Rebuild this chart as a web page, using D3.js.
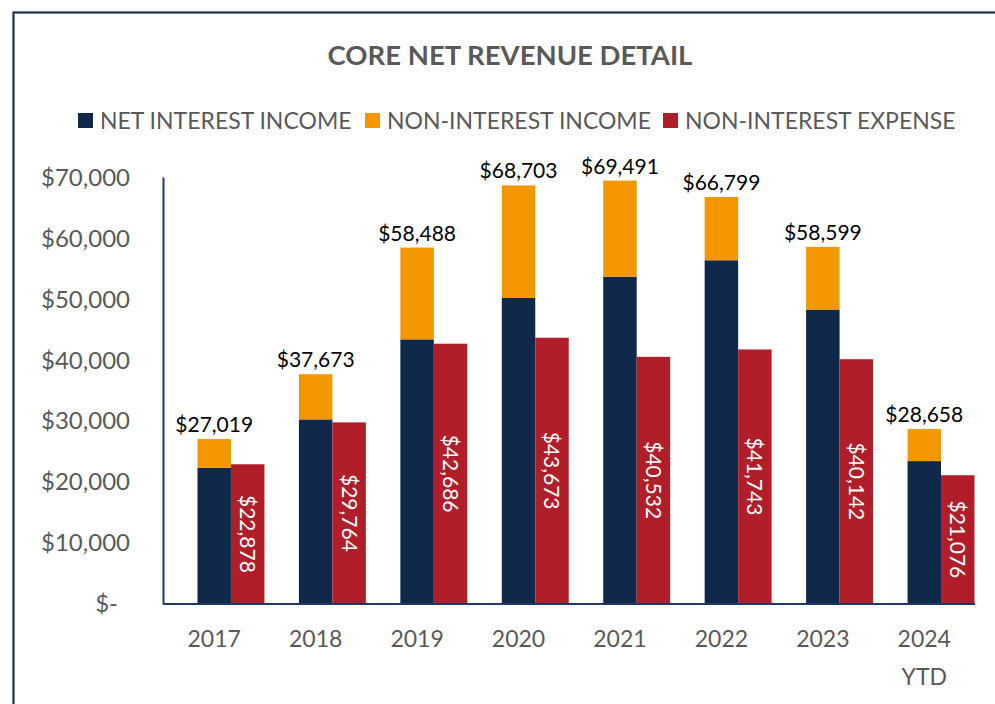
<!DOCTYPE html>
<html><head><meta charset="utf-8">
<script src="https://cdn.jsdelivr.net/npm/d3@7"></script>
<style>body{margin:0;background:#fff;} svg{display:block;}</style>
</head><body>
<svg id="c" width="995" height="704"></svg>
<script>
const categories = ["2017","2018","2019","2020","2021","2022","2023","2024"];
const categorySub = ["","","","","","","","YTD"];
const netInterestIncome = [22300, 30250, 43400, 50200, 53700, 56400, 48300, 23400];
const totalIncome = [27019, 37673, 58488, 68703, 69491, 66799, 58599, 28658];
const nonInterestIncome = totalIncome.map((t,i)=>t-netInterestIncome[i]);
const nonInterestExpense = [22878, 29764, 42686, 43673, 40532, 41743, 40142, 21076];
const yTicks = [0,10000,20000,30000,40000,50000,60000,70000];
const seriesNames = ["NET INTEREST INCOME","NON-INTEREST INCOME","NON-INTEREST EXPENSE"];
const colors = ["#10294B","#F39700","#B01F29"];

(function(){
const svg = d3.select("#c");
const font = "Lato, 'Open Sans', sans-serif";
const gray = "#595959";

svg.append("rect").attr("x",13.5).attr("y",12.5).attr("width",1100).attr("height",800)
  .attr("fill","none").attr("stroke","#1F3050").attr("stroke-width",2.2);

svg.append("text").attr("x",510).attr("y",65).attr("text-anchor","middle")
  .attr("font-family",font).attr("font-weight","bold").attr("font-size",27.5)
  .attr("fill",gray).text("CORE NET REVENUE DETAIL");

const legX = [78, 365, 663];
seriesNames.forEach((n,i)=>{
  svg.append("rect").attr("x",legX[i]).attr("y",113).attr("width",15).attr("height",15).attr("fill",colors[i]);
  svg.append("text").attr("x",legX[i]+22).attr("y",128.5).attr("font-family",font).attr("font-size",23)
    .attr("fill",gray).text(n);
});

const pLeft=163.5, pRight=975, pTop=177.5, pBottom=603.5;
const x = d3.scaleBand().domain(categories).range([pLeft,pRight]).paddingInner(0).paddingOuter(0);
const y = d3.scaleLinear().domain([0,70000]).range([pBottom,pTop]);
const bw = x.bandwidth()*0.33;

svg.selectAll(".yt").data(yTicks).enter().append("text")
  .attr("x",d=>d===0?118:130).attr("y",d=>y(d)+8.5).attr("text-anchor","end")
  .attr("font-family",font).attr("font-size",24).attr("fill",gray)
  .text(d=>d===0?"$-":"$"+d3.format(",")(d));

const g = svg.append("g");
categories.forEach((c,i)=>{
  const cx = x(c)+x.bandwidth()/2;
  g.append("rect").attr("x",cx-bw/2).attr("width",bw).attr("y",y(netInterestIncome[i]))
    .attr("height",y(0)-y(netInterestIncome[i])).attr("fill",colors[0]);
  g.append("rect").attr("x",cx-bw/2).attr("width",bw).attr("y",y(totalIncome[i]))
    .attr("height",y(netInterestIncome[i])-y(totalIncome[i])).attr("fill",colors[1]);
  g.append("rect").attr("x",cx+bw/2).attr("width",bw).attr("y",y(nonInterestExpense[i]))
    .attr("height",y(0)-y(nonInterestExpense[i])).attr("fill",colors[2]);
  g.append("text").attr("x",cx).attr("y",y(totalIncome[i])-7).attr("text-anchor","middle")
    .attr("font-family",font).attr("font-size",21).attr("fill","#000")
    .text("$"+d3.format(",")(totalIncome[i]));
  const ly = (y(nonInterestExpense[i])+y(0))/2;
  g.append("text").attr("transform",`translate(${cx+bw}, ${ly}) rotate(90)`)
    .attr("text-anchor","middle").attr("dy","0.36em")
    .attr("font-family",font).attr("font-size",21).attr("fill","#fff")
    .text("$"+d3.format(",")(nonInterestExpense[i]));
  g.append("text").attr("x",cx).attr("y",647).attr("text-anchor","middle")
    .attr("font-family",font).attr("font-size",23).attr("fill",gray).text(c);
  if(categorySub[i]) g.append("text").attr("x",cx).attr("y",685).attr("text-anchor","middle")
    .attr("font-family",font).attr("font-size",23).attr("fill",gray).text(categorySub[i]);
});

svg.append("line").attr("x1",pLeft).attr("x2",pLeft).attr("y1",pTop).attr("y2",pBottom+1)
  .attr("stroke","#1F3864").attr("stroke-width",2);
svg.append("line").attr("x1",pLeft).attr("x2",pRight).attr("y1",pBottom+0.5).attr("y2",pBottom+0.5)
  .attr("stroke","#1F3864").attr("stroke-width",2);
})();
</script>
</body></html>
